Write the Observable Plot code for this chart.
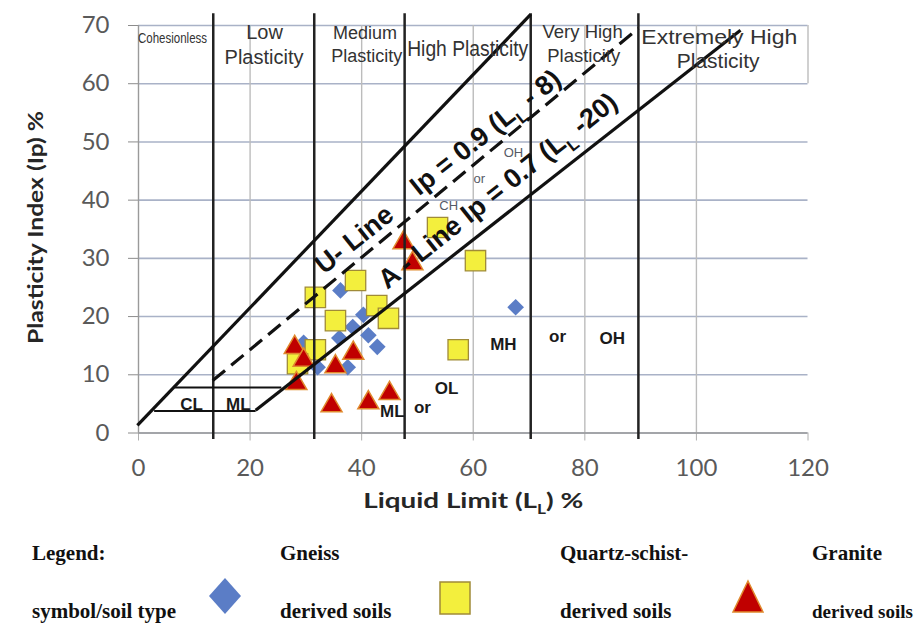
<!DOCTYPE html>
<html><head><meta charset="utf-8">
<script src="https://cdn.jsdelivr.net/npm/d3@7"></script>
<script src="https://cdn.jsdelivr.net/npm/@observablehq/plot@0.6"></script>
<style>
html,body{margin:0;padding:0;background:#fff;}
#chart{width:919px;position:relative;}
svg{display:block;}
</style></head><body><div id="chart"></div>
<script>
// ---------- data ----------
const xTicks = [0, 20, 40, 60, 80, 100, 120];
const yTicks = [0, 10, 20, 30, 40, 50, 60, 70];
const xGrid = [20, 40, 60, 80, 100];
const zoneBounds = [13.4, 31.5, 47.7, 70.3, 89.6];

const gneiss = [[36.2,24.5],[40.3,20.3],[38.4,18.2],[36.0,16.3],[41.2,16.8],[42.8,14.8],[37.5,11.3],[32.1,11.3],[29.6,15.5],[67.6,21.6]];
const quartz = [[38.9,26.2],[31.7,23.3],[35.3,19.3],[42.7,21.9],[44.8,19.7],[31.7,14.3],[28.5,11.9],[53.6,35.3],[60.4,29.6],[57.3,14.3]];
const granite = [[47.5,32.7],[49.1,29.1],[28.0,14.7],[29.6,12.5],[38.5,13.7],[35.3,11.4],[28.3,8.5],[34.6,4.7],[41.2,5.2],[45.0,6.8]];

const uLine = [[-0.2, 1.3], [70.3, 71.9]];
const aLine = [[21.0, 3.9], [107.9, 69.2]];
const dashLine = [[13.3, 9.0], [89.6, 69.5]];
const clmlBars = [[[2.8, 3.8], [21.0, 3.8]], [[6.5, 7.8], [25.6, 7.8]]];

const zoneLabels = [
  {text: "Cohesionless", x: 6.1, y: 67.8},
  {text: "Low", x: 22.6, y: 68.7},
  {text: "Plasticity", x: 22.5, y: 64.5},
  {text: "Medium", x: 40.6, y: 68.7},
  {text: "Plasticity", x: 40.9, y: 64.8},
  {text: "High Plasticity", x: 59.0, y: 66.0},
  {text: "Very High", x: 79.6, y: 68.8},
  {text: "Plasticity", x: 79.8, y: 64.7},
  {text: "Extremely High", x: 104.1, y: 68.0},
  {text: "Plasticity", x: 103.9, y: 63.9}
];
const lineLabels = [
  {text: "U- Line", x: 38.7, y: 33.2},
  {text: "Ip = 0.9 (L_L - 8)", x: 62.2, y: 51.6},
  {text: "A - Line Ip = 0.7 (L_L -20)", x: 64.4, y: 41.6}
];
const groupLabels = [
  {text: "CL", x: 9.5, y: 4.9}, {text: "ML", x: 17.9, y: 4.9},
  {text: "ML", x: 45.5, y: 3.7}, {text: "or", x: 50.9, y: 4.4}, {text: "OL", x: 55.2, y: 7.6},
  {text: "MH", x: 65.4, y: 15.2}, {text: "or", x: 75.1, y: 16.6}, {text: "OH", x: 84.9, y: 16.2}
];
const smallLabels = [
  {text: "CH", x: 55.6, y: 39.1}, {text: "or", x: 61.1, y: 43.7}, {text: "OH", x: 67.2, y: 48.2}
];
const xLabel = "Liquid Limit (L_L) %";
const yLabel = "Plasticity Index (Ip) %";
const legendTitle = ["Legend:", "symbol/soil type"];
const legendNames = [["Gneiss", "derived soils"], ["Quartz-schist-", "derived soils"], ["Granite", "derived soils"]];

// ---------- chart ----------
const px = d => d[0], py = d => d[1];
const seg = {x1: d => d[0][0], y1: d => d[0][1], x2: d => d[1][0], y2: d => d[1][1]};
const zoneSizes = [15, 20, 20, 18, 18, 22, 18.5, 18.5, 21, 21];
const narrow = new Set([0, 5]);

const plot = Plot.plot({
  width: 919, height: 525,
  marginLeft: 138, marginRight: 111.5, marginTop: 25, marginBottom: 92.5,
  x: {type: "linear", domain: [0, 120]},
  y: {type: "linear", domain: [0, 70]},
  style: {background: "white", overflow: "visible", fontFamily: "Liberation Sans, Arial, sans-serif"},
  marks: [
    Plot.gridY(yTicks, {stroke: "#a9b2c7", strokeOpacity: 1, strokeWidth: 1.6}),
    Plot.gridX(xGrid, {stroke: "#bcbcbc", strokeOpacity: 1, strokeWidth: 1.4}),
    Plot.ruleX([120], {y1: 60, y2: 70, stroke: "#bcbcbc", strokeWidth: 1.4}),
    Plot.axisX({ticks: xTicks, tickSize: 8, tickPadding: 18, fontSize: 24, fontFamily: "Lato, sans-serif", stroke: "#b0b0b0", fill: "#5a5a5a", label: null}),
    Plot.axisY({ticks: yTicks, tickSize: 10, tickPadding: 19, fontSize: 24, fontFamily: "Lato, sans-serif", stroke: "#8c8c8c", fill: "#5a5a5a", label: null}),
    Plot.ruleY([0], {stroke: "#9a9a9a", strokeWidth: 1.4}),
    Plot.ruleX([0], {stroke: "#9a9a9a", strokeWidth: 1.4}),
    // points
    Plot.dot(gneiss, {x: px, y: py, symbol: "diamond2", r: 7.5, fill: "#5b7dc6"}),
    Plot.dot(quartz, {x: px, y: py, symbol: "square", r: 11.5, fill: "#f3ef3d", stroke: "#a08b38", strokeWidth: 1.3}),
    Plot.dot(granite, {x: px, y: py, symbol: "triangle", r: 7.8, fill: "#c00000", stroke: "#e08a2e", strokeWidth: 1.5}),
    // zone boundaries
    Plot.ruleX(zoneBounds, {y1: -1.1, y2: 72, stroke: "#222", strokeWidth: 2.5}),
    // classification lines
    Plot.link([uLine, aLine], {...seg, stroke: "#111", strokeWidth: 3.2}),
    Plot.link([dashLine], {...seg, stroke: "#111", strokeWidth: 3.2, strokeDasharray: "16,8"}),
    Plot.link(clmlBars, {...seg, stroke: "#111", strokeWidth: 2}),
    // zone labels
    ...zoneLabels.map((d, i) => Plot.text([d], {x: "x", y: "y", text: "text", fontSize: zoneSizes[i],
      fontFamily: narrow.has(i) ? "Liberation Sans Narrow, Arial Narrow, Liberation Sans, sans-serif" : "Liberation Sans, Arial, sans-serif",
      fill: "#333"})),
    // line labels
    Plot.text(lineLabels, {x: "x", y: "y", text: "text", rotate: -38.5, fontSize: 27, fontWeight: "bold", fill: "#111"}),
    Plot.text(groupLabels, {x: "x", y: "y", text: "text", fontSize: 17, fontWeight: "bold", fill: "#1a1a1a"}),
    Plot.text(smallLabels, {x: "x", y: "y", text: "text", fontSize: 13, fill: "#555a66"}),
    // axis titles
    Plot.text([xLabel], {frameAnchor: "bottom", lineAnchor: "middle", textAnchor: "middle", dy: 68, fontSize: 21, fontWeight: "bold", fontFamily: "Lato, sans-serif", fill: "#262626"}),
    Plot.text([yLabel], {frameAnchor: "left", y: [35.3], dx: -102, rotate: -90, textAnchor: "middle", lineAnchor: "middle", fontSize: 21, fontWeight: "bold", fontFamily: "Lato, sans-serif", fill: "#262626"})
  ]
});

// fixed text widths and subscripts
const widths = {"Cohesionless": 69, "High Plasticity": 121, "Extremely High": 156, [xLabel]: 220, [yLabel]: 233};
plot.querySelectorAll("text").forEach(el => {
  const t = el.textContent;
  if (widths[t] && !el.querySelector("tspan")) {
    el.setAttribute("textLength", widths[t]);
    el.setAttribute("lengthAdjust", "spacingAndGlyphs");
  }
  if (t.includes("_L")) {
    const holder = el.closest("[font-size]");
    const fs = parseFloat(holder ? holder.getAttribute("font-size") : 16) || 16;
    const [a, b] = t.split("_L");
    el.textContent = "";
    el.appendChild(document.createTextNode(a));
    const ns = "http://www.w3.org/2000/svg";
    const s = document.createElementNS(ns, "tspan");
    s.setAttribute("dy", (fs * 0.28).toFixed(1));
    s.setAttribute("font-size", (fs * 0.62).toFixed(1));
    s.textContent = "L";
    const r = document.createElementNS(ns, "tspan");
    r.setAttribute("dy", (-fs * 0.28).toFixed(1));
    r.textContent = b;
    el.appendChild(s); el.appendChild(r);
  }
});
document.getElementById("chart").appendChild(plot);

// ---------- legend (below the chart) ----------
const lx = [32, 280, 560, 812];
const sym = [
  '<polygon points="225,578 241,596 225,614 209,596" fill="#5b7dc6"/>',
  '<rect x="440" y="582" width="30" height="32" fill="#f3ef3d" stroke="#a08b38" stroke-width="1.5"/>',
  '<polygon points="748,581 763,612 733,612" fill="#c00000" stroke="#e08a2e" stroke-width="1.5"/>'
];
let leg = `<svg width="919" height="103" viewBox="0 525 919 103" style="font-family:'Liberation Serif','Times New Roman',serif;font-weight:bold;font-size:21px;fill:#111">`;
leg += `<text x="${lx[0]}" y="560">${legendTitle[0]}</text><text x="${lx[0]}" y="618">${legendTitle[1]}</text>`;
legendNames.forEach((n, i) => {
  leg += sym[i];
  const fit = i === 2 ? ' font-size="19.5" textLength="101" lengthAdjust="spacingAndGlyphs"' : '';
  leg += `<text x="${lx[i+1]}" y="560">${n[0]}</text><text x="${lx[i+1]}" y="618"${fit}>${n[1]}</text>`;
});
leg += `</svg>`;
document.getElementById("chart").insertAdjacentHTML("beforeend", leg);
</script></body></html>
